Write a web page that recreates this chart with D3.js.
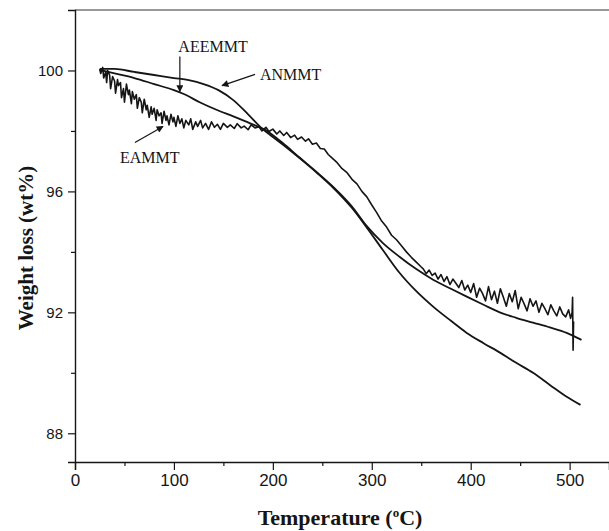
<!DOCTYPE html>
<html>
<head>
<meta charset="utf-8">
<script src="https://cdn.jsdelivr.net/npm/d3@7"></script>
<style>
  html, body { margin: 0; padding: 0; background: #fff; }
  svg { display: block; }
</style>
</head>
<body>
<svg id="chart" width="609" height="531"></svg>
<script>
// ---- Data ----
const xTicks = [0, 100, 200, 300, 400, 500];
const xMinorTicks = [50, 150, 250, 350, 450];
const yTicks = [88, 92, 96, 100];
const yMinorTicks = [90, 94, 98];

// ANMMT (smooth)
const anmmtT = [25, 40, 60, 80, 100, 115, 130, 145, 160, 175, 190, 200, 210, 227, 245, 261, 280, 295, 311, 328, 345, 362, 380, 396, 413, 430, 446, 463, 480, 497, 511];
const anmmtW = [100.05, 100.05, 99.95, 99.85, 99.75, 99.68, 99.55, 99.35, 99.02, 98.55, 98.05, 97.8, 97.55, 97.1, 96.6, 96.12, 95.45, 94.8, 94.07, 93.31, 92.7, 92.19, 91.72, 91.32, 90.98, 90.66, 90.33, 90.0, 89.6, 89.21, 88.94];

// AEEMMT (smooth)
const aeemmtT = [25, 40, 60, 80, 100, 110, 126, 143, 160, 177, 194, 210, 227, 245, 261, 280, 295, 311, 328, 345, 362, 380, 396, 413, 430, 446, 463, 480, 497, 512];
const aeemmtW = [100.02, 99.9, 99.75, 99.55, 99.35, 99.22, 98.95, 98.7, 98.48, 98.25, 98.0, 97.6, 97.12, 96.62, 96.15, 95.5, 94.85, 94.3, 93.84, 93.43, 93.08, 92.78, 92.52, 92.25, 91.99, 91.82, 91.66, 91.5, 91.32, 91.09];

// EAMMT (noisy trace, read point by point)
const eammtT = [25, 26, 28, 29, 31, 32, 33, 35, 36, 38, 40, 41, 43, 44, 46, 47, 49, 50, 52, 54, 55, 57, 58, 60, 62, 63, 65, 67, 68, 70, 72, 73, 75, 77, 78, 80, 82, 83, 85, 87, 88, 90, 92, 93, 95, 97, 99, 100, 102, 104, 106, 108, 110, 112, 115, 117, 119, 122, 124, 127, 129, 132, 135, 138, 141, 144, 147, 150,
  154, 157, 161, 164, 168, 171, 175, 178, 182, 186, 189, 193, 196, 200, 204, 207, 211, 214, 218, 222, 225, 229, 233, 236, 240, 244, 248, 252, 256, 260, 265, 270, 275, 280, 285, 290, 295, 300, 305, 310, 315, 320, 325, 330, 335, 340, 345, 350,
  352, 355, 358, 361, 364, 367, 370, 373, 376, 379, 382, 385, 388, 391, 394, 397, 400, 403, 406, 409, 412, 415, 418, 421, 424, 427, 430, 433, 436, 439, 442, 445, 448, 451, 454, 457, 460, 463, 466, 469, 472, 475, 478, 481, 484, 487, 490, 493, 496, 499, 501, 502.5, 503, 503.5, 504];
const eammtW = [100.05, 99.9, 100.1, 99.75, 99.95, 99.6, 100.0, 99.85, 99.4, 99.8, 99.65, 99.25, 99.7, 99.5, 99.6, 99.1, 99.4, 98.95, 99.55, 99.2, 99.35, 98.9, 99.3, 99.05, 99.2, 98.75, 99.1, 98.95, 98.6, 99.05, 98.7, 98.85, 98.45, 98.8, 98.55, 98.75, 98.35, 98.7, 98.5, 98.6, 98.25, 98.65, 98.35, 98.5, 98.2, 98.55, 98.3, 98.45, 98.15, 98.5, 98.25, 98.4, 98.1, 98.35, 98.2, 98.4, 98.05, 98.3, 98.15, 98.35, 98.1, 98.25, 98.05, 98.3, 98.12, 98.22, 98.05, 98.25,
  98.12, 98.2, 98.08, 98.24, 98.1, 98.16, 98.04, 98.2, 98.1, 98.14, 98.0, 98.12, 97.98, 98.06, 97.9, 98.0, 97.85, 97.95, 97.78, 97.86, 97.72, 97.8, 97.66, 97.74, 97.56, 97.6, 97.42, 97.4, 97.22, 97.1, 96.95, 96.75, 96.62, 96.4, 96.25, 96.0, 95.82, 95.55, 95.3, 95.02, 94.82, 94.55, 94.4, 94.2, 94.0, 93.82, 93.66, 93.5,
  93.44, 93.28, 93.4, 93.22, 93.3, 93.1, 93.25, 93.02, 93.18, 92.92, 93.1, 92.96, 92.82, 93.05, 92.74, 92.9, 92.66, 92.95, 92.5, 92.8, 92.62, 92.38, 92.85, 92.42, 92.7, 92.3, 92.78, 92.5, 92.2, 92.62, 92.35, 92.72, 92.12, 92.5, 92.28, 92.05, 92.45, 92.2, 92.38, 92.0, 92.3, 92.12, 91.92, 92.25, 92.05, 91.88, 92.18, 91.95, 91.85, 92.08, 91.8, 92.0, 92.5, 90.75, 91.7];

// Annotations: label position and arrow (from -> to), in data units
const annoNames = ["AEEMMT", "ANMMT", "EAMMT"];
const annoLabelT = [139.5, 187, 45.5];
const annoLabelW = [100.62, 99.70, 96.95];
const annoAnchor = ["middle", "start", "start"];
const arrowFromT = [106, 182, 60.6];
const arrowFromW = [100.46, 99.87, 97.62];
const arrowToT = [106, 148.6, 89];
const arrowToW = [99.30, 99.50, 98.15];

// ---- Layout ----
const svg = d3.select("#chart");
const mLeft = 75, mRight = 609, mTop = 10, mBottom = 462;

const x = d3.scaleLinear().domain([0, 539.8]).range([mLeft, mRight]);
const y = d3.scaleLinear().domain([87.05, 102.0]).range([mBottom, mTop]);

const ink = "#151515";

// Frame: top line
svg.append("line")
  .attr("x1", mLeft).attr("x2", mRight)
  .attr("y1", mTop).attr("y2", mTop)
  .attr("stroke", "#333").attr("stroke-width", 1.2);

// X axis
const xAxis = d3.axisBottom(x).tickValues(xTicks).tickSize(8).tickPadding(4).tickFormat(d3.format("d"));
const gx = svg.append("g").attr("transform", `translate(0,${mBottom})`).call(xAxis);
gx.select(".domain").attr("stroke", ink).attr("stroke-width", 1.4);
gx.selectAll(".tick line").attr("stroke", ink).attr("stroke-width", 1.2);
gx.selectAll(".tick text").attr("font-family", "Liberation Sans, Arial, sans-serif").attr("font-size", 17).attr("fill", ink);
const xMinor = d3.axisBottom(x).tickValues(xMinorTicks).tickSize(4).tickFormat("");
const gxm = svg.append("g").attr("transform", `translate(0,${mBottom})`).call(xMinor);
gxm.select(".domain").remove();
gxm.selectAll(".tick line").attr("stroke", ink).attr("stroke-width", 1.2);

// Y axis
const yAxis = d3.axisLeft(y).tickValues(yTicks).tickSize(7).tickPadding(5).tickFormat(d3.format("d"));
const gy = svg.append("g").attr("transform", `translate(${mLeft},0)`).call(yAxis);
gy.select(".domain").attr("stroke", ink).attr("stroke-width", 1.4);
gy.selectAll(".tick line").attr("stroke", ink).attr("stroke-width", 1.2);
gy.selectAll(".tick text").attr("font-family", "Liberation Sans, Arial, sans-serif").attr("font-size", 15).attr("fill", ink);
const yMinor = d3.axisLeft(y).tickValues(yMinorTicks).tickSize(4).tickFormat("");
const gym = svg.append("g").attr("transform", `translate(${mLeft},0)`).call(yMinor);
gym.select(".domain").remove();
gym.selectAll(".tick line").attr("stroke", ink).attr("stroke-width", 1.2);

// Axis titles
const xt = svg.append("text")
  .attr("x", 340).attr("y", 525)
  .attr("text-anchor", "middle")
  .attr("font-family", "Liberation Serif, Times New Roman, serif")
  .attr("font-weight", "bold").attr("font-size", 22).attr("fill", ink);
xt.append("tspan").text("Temperature (");
xt.append("tspan").attr("dy", -8).attr("font-size", 13).text("o");
xt.append("tspan").attr("dy", 8).text("C)");

svg.append("text")
  .attr("transform", "translate(33,248) rotate(-90)")
  .attr("text-anchor", "middle")
  .attr("font-family", "Liberation Serif, Times New Roman, serif")
  .attr("font-weight", "bold").attr("font-size", 21).attr("fill", ink)
  .text("Weight loss (wt%)");

// Curves
const smoothLine = d3.line().x(d => x(d[0])).y(d => y(d[1])).curve(d3.curveMonotoneX);
const rawLine = d3.line().x(d => x(d[0])).y(d => y(d[1])).curve(d3.curveLinear);

const anmmt = anmmtT.map((t, i) => [t, anmmtW[i]]);
const aeemmt = aeemmtT.map((t, i) => [t, aeemmtW[i]]);
const eammt = eammtT.map((t, i) => [t, eammtW[i]]);

svg.append("path").datum(anmmt).attr("d", smoothLine)
  .attr("fill", "none").attr("stroke", ink).attr("stroke-width", 1.8);
svg.append("path").datum(aeemmt).attr("d", smoothLine)
  .attr("fill", "none").attr("stroke", ink).attr("stroke-width", 1.8);
svg.append("path").datum(eammt).attr("d", rawLine)
  .attr("fill", "none").attr("stroke", ink).attr("stroke-width", 1.6)
  .attr("stroke-linejoin", "round");

// Annotations
svg.append("defs").append("marker")
  .attr("id", "ah").attr("viewBox", "0 0 10 10")
  .attr("refX", 9).attr("refY", 5)
  .attr("markerWidth", 9).attr("markerHeight", 7)
  .attr("markerUnits", "userSpaceOnUse")
  .attr("orient", "auto")
  .append("path").attr("d", "M0,0 L10,5 L0,10 z").attr("fill", ink);

annoNames.forEach((name, i) => {
  svg.append("text")
    .attr("x", x(annoLabelT[i])).attr("y", y(annoLabelW[i]))
    .attr("text-anchor", annoAnchor[i])
    .attr("font-family", "Liberation Serif, Times New Roman, serif")
    .attr("font-size", 16).attr("fill", ink)
    .text(name);
  svg.append("line")
    .attr("x1", x(arrowFromT[i])).attr("y1", y(arrowFromW[i]))
    .attr("x2", x(arrowToT[i])).attr("y2", y(arrowToW[i]))
    .attr("stroke", ink).attr("stroke-width", 1.2)
    .attr("marker-end", "url(#ah)");
});
</script>
</body>
</html>
